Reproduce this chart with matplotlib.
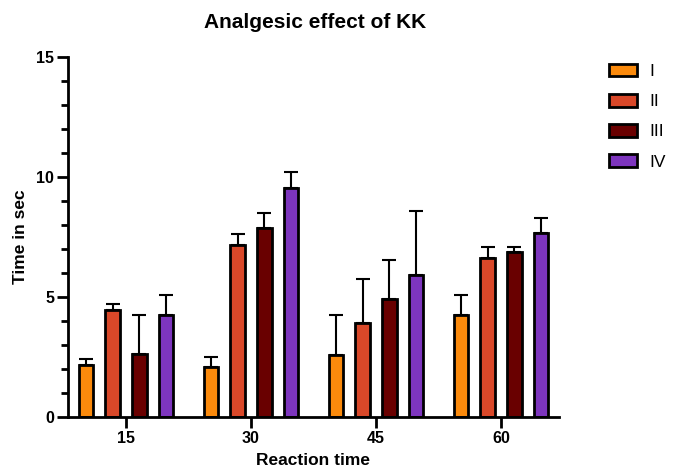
import matplotlib.pyplot as plt
import numpy as np

plt.rcParams['font.family'] = ['Liberation Sans', 'DejaVu Sans']

# reaction times and groups
times = ['15', '30', '45', '60']
groups = ['I', 'II', 'III', 'IV']

# mean values per group (one value per reaction time)
means_I = [2.17, 2.07, 2.58, 4.25]
means_II = [4.46, 7.17, 3.93, 6.64]
means_III = [2.61, 7.86, 4.90, 6.86]
means_IV = [4.25, 9.56, 5.90, 7.65]

# upper error bar sizes
err_I = [0.25, 0.44, 1.67, 0.85]
err_II = [0.25, 0.45, 1.83, 0.46]
err_III = [1.63, 0.65, 1.64, 0.24]
err_IV = [0.83, 0.65, 2.67, 0.64]

colors = ['#FB8A0C', '#D94829', '#690000', '#7D35BE']


def create_plot():
    fig = plt.figure(figsize=(6.76, 4.72), dpi=100)
    ax = fig.add_axes([68 / 676, 55 / 472, 491 / 676, 360 / 472])

    x = np.arange(len(times))
    offsets = [-0.32, -0.107, 0.107, 0.32]
    width = 0.118
    all_means = [means_I, means_II, means_III, means_IV]
    all_errs = [err_I, err_II, err_III, err_IV]

    for i, name in enumerate(groups):
        ax.bar(x + offsets[i], all_means[i], width, color=colors[i],
               edgecolor='black', linewidth=2, label=name, zorder=2)
        ax.errorbar(x + offsets[i], all_means[i],
                    yerr=[np.zeros(len(times)), all_errs[i]],
                    fmt='none', ecolor='black', elinewidth=1.5,
                    capsize=5, capthick=1.5, zorder=1)

    ax.set_xlim(-0.464, 3.464)
    ax.set_ylim(0, 15)
    ax.set_xticks(x)
    ax.set_xticklabels(times)
    ax.set_yticks([0, 5, 10, 15])
    ax.set_yticks(np.arange(0, 16, 1), minor=True)

    for side in ['top', 'right']:
        ax.spines[side].set_visible(False)
    for side in ['left', 'bottom']:
        ax.spines[side].set_linewidth(2)

    ax.tick_params(axis='both', which='major', length=8, width=2,
                   labelsize=11.5, pad=2)
    ax.tick_params(axis='y', which='minor', length=5, width=2)
    ax.tick_params(axis='x', which='minor', length=0)
    for lbl in ax.get_xticklabels() + ax.get_yticklabels():
        lbl.set_fontweight('bold')

    ax.set_xlabel('Reaction time', fontsize=12.5, fontweight='bold', labelpad=5)
    ax.set_ylabel('Time in sec', fontsize=12.5, fontweight='bold', labelpad=6)
    fig.text(315 / 676, 1 - 23 / 472, 'Analgesic effect of KK', fontsize=15,
             fontweight='bold', ha='center', va='center')

    ax.legend(loc='upper left', bbox_to_anchor=(1.07, 1.025), frameon=False,
              fontsize=12.5, handlelength=1.6, handleheight=0.75,
              labelspacing=0.85, handletextpad=0.7)

    fig.savefig('out.png', dpi=100)


create_plot()
